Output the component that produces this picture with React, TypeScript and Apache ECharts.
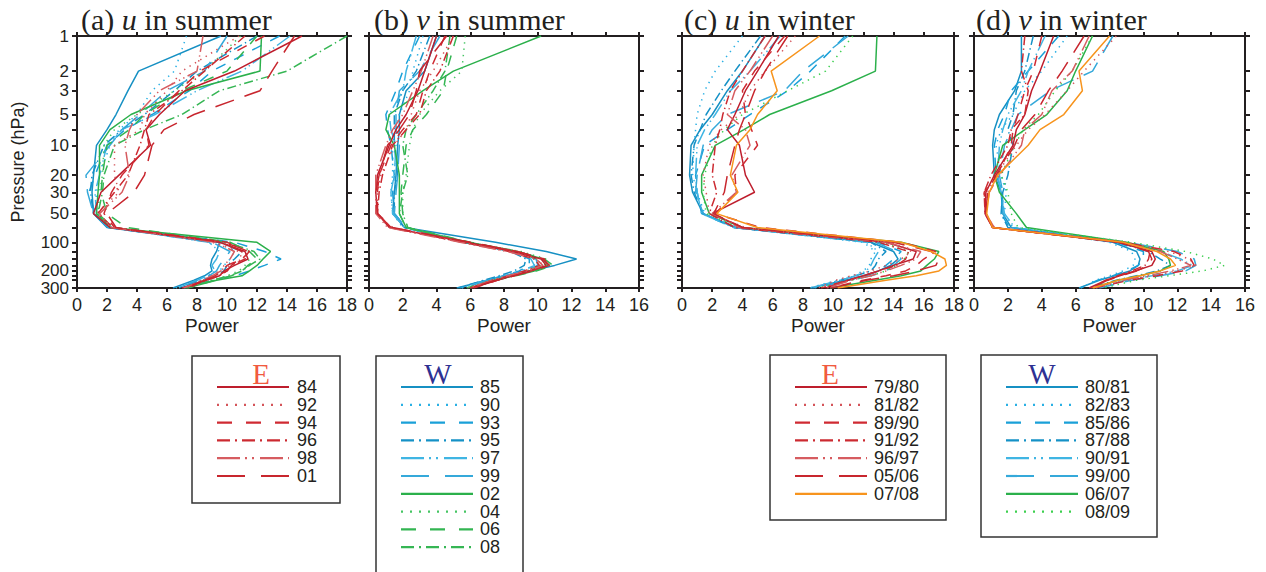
import React, { useEffect, useRef } from 'react';
import * as echarts from 'echarts';

// Pressure levels (hPa) at which profiles are given
const LEVELS = [1, 2, 3, 5, 7, 10, 20, 30, 50, 70, 100, 125, 150, 175, 200, 225, 250, 300];
const LABEL_LEVELS = [1, 2, 3, 5, 10, 20, 30, 50, 100, 200, 300];
const X_TICKS_18 = [0, 18];
const X_TICKS_16 = [0, 16];

// ---- (a) u in summer ----
const SUMMER_E_NAMES = ['84', '92', '94', '96', '98', '01'];
const SUMMER_W_NAMES = ['85', '90', '93', '95', '97', '99', '02', '04', '06', '08'];
const U_SUMMER_E = [
  [15.0, 10.5, 7.2, 5.5, 4.6, 4.9, 2.8, 1.6, 1.1, 2.2, 9.5, 11.2, 11.4, 10.5, 9.8, 9.5, 8.6, 7.0],
  [10.8, 7.0, 6.0, 4.5, 4.2, 2.5, 2.5, 2.8, 1.3, 2.3, 9.0, 10.8, 11.0, 10.2, 9.5, 9.0, 8.3, 7.2],
  [12.5, 8.2, 6.8, 5.2, 4.6, 4.8, 3.0, 2.3, 1.8, 2.5, 9.8, 11.5, 11.0, 10.0, 9.7, 9.2, 8.5, 7.3],
  [11.2, 8.5, 7.0, 4.8, 4.5, 4.2, 3.4, 2.5, 1.4, 2.4, 10.0, 11.4, 11.2, 10.3, 10.0, 9.5, 8.6, 7.4],
  [8.4, 8.0, 5.5, 4.0, 3.5, 3.2, 3.5, 3.0, 1.5, 2.3, 9.2, 10.5, 10.2, 9.8, 9.6, 9.0, 8.4, 7.1],
  [14.5, 13.0, 12.2, 7.8, 5.8, 5.0, 4.5, 3.8, 2.0, 2.6, 9.6, 11.0, 10.8, 10.3, 10.0, 9.3, 8.5, 7.2],
];
const U_SUMMER_W = [
  [9.6, 4.1, 3.4, 2.6, 2.0, 1.3, 1.1, 1.0, 1.1, 2.0, 9.5, 9.3, 9.0, 8.9, 9.0, 8.5, 7.8, 6.4],
  [7.3, 6.5, 5.0, 4.0, 2.8, 2.2, 1.5, 1.3, 1.2, 2.2, 9.8, 10.5, 10.2, 9.8, 9.5, 9.0, 8.3, 7.0],
  [13.5, 9.0, 7.5, 5.0, 3.2, 2.0, 1.2, 0.8, 1.2, 2.2, 10.5, 12.5, 13.6, 12.5, 11.5, 10.5, 9.0, 7.1],
  [12.0, 8.0, 6.5, 4.5, 3.0, 1.8, 1.0, 0.9, 1.1, 2.1, 9.5, 11.0, 10.5, 10.0, 9.8, 9.2, 8.3, 6.8],
  [14.2, 11.0, 8.0, 5.2, 3.0, 2.0, 1.5, 1.2, 1.3, 2.3, 8.8, 9.5, 9.3, 9.0, 9.2, 8.7, 8.0, 6.6],
  [10.0, 8.5, 6.0, 4.2, 3.0, 2.2, 0.6, 0.7, 1.1, 2.1, 9.0, 10.2, 9.8, 9.5, 9.3, 8.8, 8.1, 6.7],
  [12.3, 12.2, 7.3, 3.6, 2.2, 1.5, 1.5, 1.4, 1.3, 2.2, 12.0, 12.9, 12.4, 12.0, 11.5, 11.0, 9.3, 7.3],
  [10.9, 8.5, 6.5, 4.0, 2.5, 1.8, 1.7, 1.5, 1.4, 2.3, 9.8, 11.0, 11.5, 11.2, 10.8, 10.0, 9.0, 7.3],
  [12.0, 10.0, 7.0, 4.5, 3.5, 2.0, 1.7, 1.6, 2.0, 3.3, 10.2, 11.5, 12.0, 11.4, 11.0, 10.3, 9.2, 7.4],
  [18.0, 14.0, 9.5, 7.0, 4.5, 2.5, 1.8, 1.7, 1.4, 2.4, 10.0, 11.8, 12.2, 11.5, 11.0, 10.2, 9.0, 7.2],
];

// ---- (b) v in summer ----
const V_SUMMER_E = [
  [4.0, 3.3, 2.9, 2.2, 1.6, 1.2, 0.5, 0.4, 0.5, 1.2, 5.8, 8.5, 10.2, 10.5, 9.5, 8.5, 7.6, 6.1],
  [5.0, 3.8, 3.0, 2.5, 2.2, 1.5, 0.7, 0.5, 0.5, 1.2, 5.6, 8.6, 10.0, 10.3, 9.3, 8.4, 7.4, 6.0],
  [4.5, 3.6, 3.2, 2.8, 2.0, 1.3, 0.6, 0.5, 0.5, 1.3, 5.9, 8.8, 10.4, 10.6, 9.6, 8.6, 7.6, 6.2],
  [5.0, 4.2, 3.4, 3.0, 2.2, 1.4, 0.8, 0.6, 0.5, 1.3, 5.5, 8.3, 9.8, 10.1, 9.2, 8.3, 7.3, 6.0],
  [3.8, 3.1, 2.6, 2.0, 1.4, 1.0, 0.4, 0.4, 0.4, 1.1, 5.4, 8.2, 9.9, 10.3, 9.4, 8.2, 7.3, 5.9],
  [4.6, 3.0, 2.8, 2.4, 1.8, 1.1, 0.6, 0.4, 0.5, 1.4, 6.0, 8.8, 10.3, 10.7, 9.7, 8.6, 7.5, 6.1],
];
const V_SUMMER_W = [
  [4.0, 3.3, 2.2, 1.8, 1.8, 1.7, 1.6, 1.5, 1.4, 2.1, 7.5, 10.5, 12.3, 11.0, 9.5, 8.0, 7.0, 5.2],
  [3.2, 2.6, 2.4, 1.8, 1.6, 1.4, 1.4, 1.3, 1.4, 2.0, 5.5, 8.5, 9.8, 9.8, 9.0, 8.0, 7.0, 5.5],
  [3.0, 2.0, 1.6, 1.0, 1.1, 1.3, 1.5, 1.4, 1.5, 2.2, 5.8, 8.5, 9.5, 9.5, 8.9, 8.0, 6.9, 5.4],
  [3.6, 2.8, 2.0, 1.5, 1.5, 1.5, 1.7, 1.5, 1.5, 2.1, 5.6, 8.4, 9.3, 9.2, 8.6, 7.7, 6.8, 5.3],
  [2.8, 2.2, 2.0, 1.2, 1.3, 1.6, 1.5, 1.3, 1.4, 2.1, 5.7, 8.6, 9.6, 9.8, 9.1, 8.1, 7.0, 5.5],
  [4.2, 3.0, 1.8, 1.6, 1.6, 1.8, 1.7, 1.6, 1.5, 2.2, 5.8, 8.7, 9.9, 10.0, 9.2, 8.2, 7.1, 5.6],
  [10.2, 5.0, 3.2, 1.2, 1.0, 1.5, 1.8, 1.8, 1.8, 2.2, 5.9, 8.8, 10.3, 10.6, 9.8, 8.6, 7.5, 6.0],
  [5.7, 5.5, 4.2, 3.0, 2.6, 2.4, 2.2, 2.0, 2.0, 2.3, 5.8, 9.0, 10.5, 10.4, 9.5, 8.5, 7.4, 6.0],
  [5.2, 4.6, 4.4, 3.4, 2.6, 2.2, 2.0, 1.9, 2.0, 2.3, 6.0, 8.8, 10.4, 10.9, 9.9, 8.7, 7.5, 6.1],
  [4.8, 4.5, 3.8, 2.8, 2.2, 2.0, 2.3, 2.0, 1.8, 2.2, 5.7, 8.6, 10.0, 10.2, 9.4, 8.4, 7.3, 5.8],
];

// ---- (c) u in winter ----
const WINTER_E_NAMES = ['79/80', '81/82', '89/90', '91/92', '96/97', '05/06', '07/08'];
const WINTER_W_NAMES = ['80/81', '82/83', '85/86', '87/88', '90/91', '99/00', '06/07', '08/09'];
const U_WINTER_E = [
  [6.4, 5.0, 4.2, 3.5, 3.0, 3.8, 4.2, 4.8, 2.0, 4.0, 13.5, 15.5, 15.3, 14.0, 13.0, 12.0, 11.0, 9.5],
  [7.5, 5.5, 4.5, 3.8, 2.6, 1.8, 1.4, 1.6, 1.8, 4.2, 13.8, 15.2, 14.5, 13.5, 12.5, 11.2, 10.2, 9.0],
  [6.8, 4.8, 4.0, 4.2, 4.6, 5.0, 3.5, 3.6, 2.2, 5.2, 14.5, 16.8, 16.0, 15.5, 14.8, 13.5, 12.0, 9.8],
  [5.5, 4.0, 3.2, 2.7, 2.5, 2.2, 2.0, 2.3, 1.8, 3.5, 13.0, 15.0, 14.8, 14.2, 13.0, 12.0, 11.0, 9.2],
  [6.0, 4.5, 3.5, 3.0, 4.2, 4.5, 3.3, 3.6, 2.0, 3.8, 13.5, 15.8, 15.5, 14.5, 13.5, 12.5, 11.2, 9.6],
  [7.0, 5.5, 4.8, 4.2, 3.8, 3.5, 3.0, 2.8, 2.1, 4.0, 14.0, 16.5, 17.0, 16.8, 15.5, 14.0, 12.2, 9.9],
  [9.1, 5.9, 6.3, 5.0, 4.5, 3.6, 3.2, 3.7, 2.3, 5.0, 14.5, 16.5, 17.4, 17.5, 17.0, 15.5, 13.5, 10.3],
];
const U_WINTER_W = [
  [5.5, 4.0, 3.0, 2.0, 1.2, 0.6, 0.5, 0.7, 1.4, 3.5, 12.5, 14.0, 14.3, 13.8, 13.0, 12.0, 10.8, 8.5],
  [4.0, 2.2, 1.5, 1.0, 0.9, 0.8, 0.7, 1.0, 1.5, 3.6, 12.0, 12.8, 12.5, 12.4, 12.0, 11.3, 10.3, 8.4],
  [10.8, 8.5, 7.0, 4.5, 3.0, 1.5, 0.9, 1.0, 1.3, 3.4, 13.0, 14.5, 14.0, 13.5, 13.0, 12.2, 11.0, 8.8],
  [5.2, 3.5, 2.6, 1.6, 1.2, 0.8, 0.6, 0.8, 1.4, 3.5, 12.5, 13.5, 13.0, 12.8, 12.5, 11.5, 10.5, 8.6],
  [6.5, 4.5, 3.2, 2.2, 1.5, 1.0, 0.9, 1.0, 1.3, 3.4, 12.2, 13.0, 12.7, 12.5, 12.2, 11.5, 10.5, 8.5],
  [11.0, 8.0, 6.8, 3.0, 2.0, 1.4, 1.0, 0.9, 1.4, 3.6, 12.8, 14.2, 14.5, 14.0, 13.5, 12.5, 11.2, 8.7],
  [12.9, 12.8, 9.9, 5.8, 4.1, 2.2, 1.3, 1.3, 1.8, 4.0, 14.5, 17.0, 16.7, 16.2, 15.8, 14.5, 12.8, 9.8],
  [11.3, 9.5, 7.0, 4.0, 2.8, 2.0, 1.5, 1.4, 1.6, 3.8, 13.2, 15.0, 14.7, 14.2, 13.5, 12.5, 11.2, 9.0],
];

// ---- (d) v in winter ----
const V_WINTER_E = [
  [4.7, 3.9, 3.4, 3.0, 2.5, 2.3, 1.2, 0.7, 0.65, 1.1, 8.5, 10.5, 10.7, 10.5, 9.5, 8.6, 7.8, 6.8],
  [8.4, 6.5, 5.5, 4.2, 3.2, 2.5, 1.3, 0.8, 0.7, 1.2, 9.0, 11.5, 12.7, 13.1, 12.0, 10.5, 9.0, 7.2],
  [4.0, 3.5, 3.0, 2.6, 2.3, 2.2, 1.4, 0.6, 0.7, 1.1, 8.8, 11.8, 12.8, 13.0, 12.3, 10.8, 9.2, 7.1],
  [3.0, 2.8, 3.2, 3.0, 2.2, 2.0, 1.0, 0.6, 0.65, 1.1, 8.6, 10.4, 10.3, 10.1, 9.3, 8.5, 7.8, 6.9],
  [6.8, 5.8, 4.6, 4.0, 3.0, 2.8, 1.5, 0.9, 0.7, 1.2, 8.7, 11.0, 12.0, 12.8, 11.6, 10.2, 8.8, 7.0],
  [6.5, 5.2, 4.4, 3.6, 2.8, 2.4, 1.3, 0.8, 0.7, 1.1, 8.6, 10.3, 10.5, 10.3, 9.6, 8.7, 7.9, 6.9],
  [8.0, 6.2, 6.4, 5.3, 3.9, 3.2, 1.4, 0.9, 0.75, 1.1, 8.8, 10.8, 11.6, 11.9, 11.0, 9.8, 8.5, 7.0],
];
const V_WINTER_W = [
  [2.8, 2.8, 2.4, 1.5, 1.2, 1.1, 1.2, 1.6, 1.7, 2.2, 8.2, 9.6, 9.8, 9.7, 9.2, 8.3, 7.4, 6.2],
  [5.5, 4.0, 3.0, 2.3, 1.6, 1.3, 1.6, 1.9, 1.8, 2.3, 8.0, 9.3, 9.5, 9.4, 8.8, 8.0, 7.2, 6.3],
  [5.0, 3.2, 2.2, 1.8, 1.4, 1.2, 1.3, 1.7, 1.6, 2.1, 8.4, 10.0, 10.0, 9.7, 9.0, 8.2, 7.3, 6.3],
  [3.5, 3.0, 2.5, 2.3, 2.0, 2.3, 2.0, 1.7, 1.6, 2.0, 8.5, 10.3, 11.0, 11.6, 10.8, 9.6, 8.4, 6.8],
  [4.2, 3.2, 2.8, 2.0, 1.7, 1.5, 1.4, 1.6, 1.8, 2.4, 8.9, 11.0, 12.2, 12.9, 12.0, 10.5, 9.0, 7.2],
  [8.2, 7.0, 4.5, 2.6, 2.2, 1.8, 1.5, 1.7, 1.7, 2.2, 9.0, 12.0, 13.0, 13.1, 12.5, 11.0, 9.3, 7.4],
  [7.0, 6.0, 5.5, 4.3, 3.0, 1.7, 1.2, 1.5, 2.5, 3.1, 9.0, 11.2, 11.5, 11.6, 11.0, 9.8, 8.5, 7.0],
  [7.0, 5.8, 4.8, 3.8, 2.9, 2.4, 1.6, 2.0, 2.2, 2.6, 9.3, 12.5, 14.1, 14.8, 13.5, 11.5, 9.6, 7.6],
];

// ---- styles ----
const DASHES: Record<string, number[] | null> = {
  solid: null,
  dot: [2, 7],
  dash: [15, 14],
  dashdot: [13, 5, 2, 5],
  dashdotdot: [23, 5, 2, 5, 2, 6],
  longdash: [28, 16],
};
type St = { color: string; dash: string };
const RED_STYLES: St[] = [
  { color: '#be1e2d', dash: 'solid' },
  { color: '#d4545a', dash: 'dot' },
  { color: '#cf2a32', dash: 'dash' },
  { color: '#cc2a31', dash: 'dashdot' },
  { color: '#d65c60', dash: 'dashdotdot' },
  { color: '#c8262e', dash: 'longdash' },
];
const BLUE_STYLES: St[] = [
  { color: '#1690c3', dash: 'solid' },
  { color: '#2ab0e4', dash: 'dot' },
  { color: '#1aa0d8', dash: 'dash' },
  { color: '#1591c6', dash: 'dashdot' },
  { color: '#40b5e3', dash: 'dashdotdot' },
  { color: '#35a9da', dash: 'longdash' },
];
const SUMMER_E_STYLES = RED_STYLES;
const SUMMER_W_STYLES: St[] = [
  ...BLUE_STYLES,
  { color: '#2bb04b', dash: 'solid' },
  { color: '#45c563', dash: 'dot' },
  { color: '#33b552', dash: 'dash' },
  { color: '#36b654', dash: 'dashdot' },
];
const WINTER_E_STYLES: St[] = [...RED_STYLES, { color: '#f7941d', dash: 'solid' }];
const WINTER_W_STYLES: St[] = [
  ...BLUE_STYLES,
  { color: '#2bb04b', dash: 'solid' },
  { color: '#3ccf4f', dash: 'dot' },
];

// U.S. standard atmosphere: pressure (hPa) -> altitude (km)
function altitudeKm(p: number): number {
  if (p > 226.32) {
    const T = 288.15 * Math.pow(p / 1013.25, 0.190263);
    return (288.15 - T) / 6.5;
  }
  if (p > 54.748) return 11 + 6.3416 * Math.log(226.32 / p);
  if (p > 8.6801) {
    const T = 216.65 * Math.pow(p / 54.748, -1 / 34.1632);
    return 20 + (T - 216.65);
  }
  if (p > 1.109) {
    const T = 228.65 * Math.pow(p / 8.6801, -1 / 12.2011);
    return 32 + (T - 228.65) / 2.8;
  }
  return 47 + 7.9224 * Math.log(1.109 / p);
}

const INK = '#231f20';
const SANS = 'Liberation Sans, Arial, sans-serif';
const SERIF = 'Liberation Serif, Times New Roman, serif';

function scaleDash(d: number[] | null, k: number) {
  return d ? d.map((v) => v * k) : 'solid';
}

function buildOption() {
  const zMin = altitudeKm(300);
  const zMax = altitudeKm(1);
  const labelZ = LABEL_LEVELS.map(altitudeKm);
  const tickZ = LEVELS.map(altitudeKm);
  const fmt = (v: number) => {
    let best = LEVELS[0];
    let bd = Infinity;
    LEVELS.forEach((p) => {
      const d = Math.abs(altitudeKm(p) - v);
      if (d < bd) { bd = d; best = p; }
    });
    return String(best);
  };

  const panels = [
    { pre: '(a) ', v: 'u', post: ' in summer', xr: X_TICKS_18, left: 77, width: 270, tx: 81,
      groups: [[U_SUMMER_W, SUMMER_W_STYLES], [U_SUMMER_E, SUMMER_E_STYLES]] },
    { pre: '(b) ', v: 'v', post: ' in summer', xr: X_TICKS_16, left: 369, width: 270, tx: 374,
      groups: [[V_SUMMER_W, SUMMER_W_STYLES], [V_SUMMER_E, SUMMER_E_STYLES]] },
    { pre: '(c) ', v: 'u', post: ' in winter', xr: X_TICKS_18, left: 682, width: 272, tx: 684,
      groups: [[U_WINTER_W, WINTER_W_STYLES], [U_WINTER_E, WINTER_E_STYLES]] },
    { pre: '(d) ', v: 'v', post: ' in winter', xr: X_TICKS_16, left: 974, width: 271, tx: 976,
      groups: [[V_WINTER_W, WINTER_W_STYLES], [V_WINTER_E, WINTER_E_STYLES]] },
  ];

  const grid: any[] = [];
  const xAxis: any[] = [];
  const yAxis: any[] = [];
  const series: any[] = [];
  const graphic: any[] = [];

  const axisLine = { show: true, onZero: false, lineStyle: { color: INK, width: 2 } };

  panels.forEach((pn, i) => {
    grid.push({ left: pn.left, top: 36, width: pn.width, height: 252 });
    const xBase = {
      gridIndex: i, type: 'value', min: pn.xr[0], max: pn.xr[1], interval: 2,
      axisLine, splitLine: { show: false },
      axisTick: { show: true, length: 4, lineStyle: { color: INK, width: 2 } },
    };
    xAxis.push({
      ...xBase, position: 'bottom',
      axisLabel: { show: true, fontSize: 18, color: INK, fontFamily: SANS, margin: 8 },
      name: 'Power', nameLocation: 'middle', nameGap: 28,
      nameTextStyle: { fontSize: 19, color: INK, fontFamily: SANS },
    });
    xAxis.push({ ...xBase, position: 'top', axisLabel: { show: false } });
    const yBase = {
      gridIndex: i, type: 'value', min: zMin, max: zMax, axisLine,
      splitLine: { show: false },
      axisTick: { show: true, length: 5, customValues: tickZ, lineStyle: { color: INK, width: 2 } },
    };
    yAxis.push({
      ...yBase, position: 'left',
      axisLabel: { show: i === 0, customValues: labelZ, formatter: fmt, fontSize: 17, lineHeight: 14, color: INK, fontFamily: SANS, margin: 8 },
      name: i === 0 ? 'Pressure (hPa)' : '', nameLocation: 'middle', nameGap: 50,
      nameTextStyle: { fontSize: 18, color: INK, fontFamily: SANS },
    });
    yAxis.push({ ...yBase, position: 'right', axisLabel: { show: false } });

    pn.groups.forEach(([rows, styles]: any) => {
      rows.forEach((vals: number[], k: number) => {
        const st = styles[k];
        series.push({
          type: 'line', xAxisIndex: 2 * i, yAxisIndex: 2 * i,
          data: LEVELS.map((p, j) => [vals[j], altitudeKm(p)]),
          showSymbol: false, symbol: 'none', silent: true, clip: true,
          lineStyle: { color: st.color, width: 1.5, type: scaleDash(DASHES[st.dash], 0.7) },
        });
      });
    });

    graphic.push({
      type: 'text', x: pn.tx, y: 19,
      style: {
        text: `{n|${pn.pre}}{i|${pn.v}}{n|${pn.post}}`,
        fontSize: 30, fontFamily: SERIF, fill: INK, verticalAlign: 'middle',
        rich: {
          n: { fontSize: 30, fontFamily: SERIF, fill: INK, color: INK },
          i: { fontSize: 30, fontFamily: SERIF, fontStyle: 'italic', fill: INK, color: INK },
        },
      },
    });
  });

  // legend boxes
  const boxes = [
    { x: 192, y: 356, w: 148, h: 147, title: 'E', tc: '#f15a3f', tx: 261, l0: 217, l1: 289, lab: 297, names: SUMMER_E_NAMES, styles: SUMMER_E_STYLES },
    { x: 376, y: 356, w: 147, h: 240, title: 'W', tc: '#2e3192', tx: 438, l0: 401, l1: 473, lab: 480, names: SUMMER_W_NAMES, styles: SUMMER_W_STYLES },
    { x: 770, y: 355, w: 176, h: 165, title: 'E', tc: '#f15a3f', tx: 830, l0: 795, l1: 867, lab: 874, names: WINTER_E_NAMES, styles: WINTER_E_STYLES },
    { x: 981, y: 355, w: 176, h: 182, title: 'W', tc: '#2e3192', tx: 1042, l0: 1006, l1: 1078, lab: 1085, names: WINTER_W_NAMES, styles: WINTER_W_STYLES },
  ];
  boxes.forEach((b) => {
    graphic.push({ type: 'rect', shape: { x: b.x, y: b.y, width: b.w, height: b.h }, style: { fill: '#fff', stroke: '#333', lineWidth: 1.5 } });
    graphic.push({ type: 'text', x: b.tx, y: 374, style: { text: b.title, fontSize: 29, fontFamily: SERIF, fill: b.tc, align: 'center', verticalAlign: 'middle' } });
    b.names.forEach((nm, k) => {
      const y = 387 + k * 17.8;
      const st = b.styles[k];
      const d = DASHES[st.dash];
      graphic.push({ type: 'line', shape: { x1: b.l0, y1: y, x2: b.l1, y2: y }, style: { stroke: st.color, lineWidth: 2.2, lineDash: d || undefined } });
      graphic.push({ type: 'text', x: b.lab, y: y, style: { text: nm, fontSize: 18, lineHeight: 17, fontFamily: SANS, fill: INK, align: 'left', verticalAlign: 'middle' } });
    });
  });

  return { animation: false, backgroundColor: '#fff', grid, xAxis, yAxis, series, graphic };
}

export default function App() {
  const ref = useRef<HTMLDivElement>(null);
  useEffect(() => {
    document.body.style.margin = '0';
    const chart = echarts.init(ref.current!, null, { renderer: 'svg' });
    chart.setOption(buildOption() as any);
    return () => chart.dispose();
  }, []);
  return <div ref={ref} style={{ width: 1266, height: 572 }} />;
}
